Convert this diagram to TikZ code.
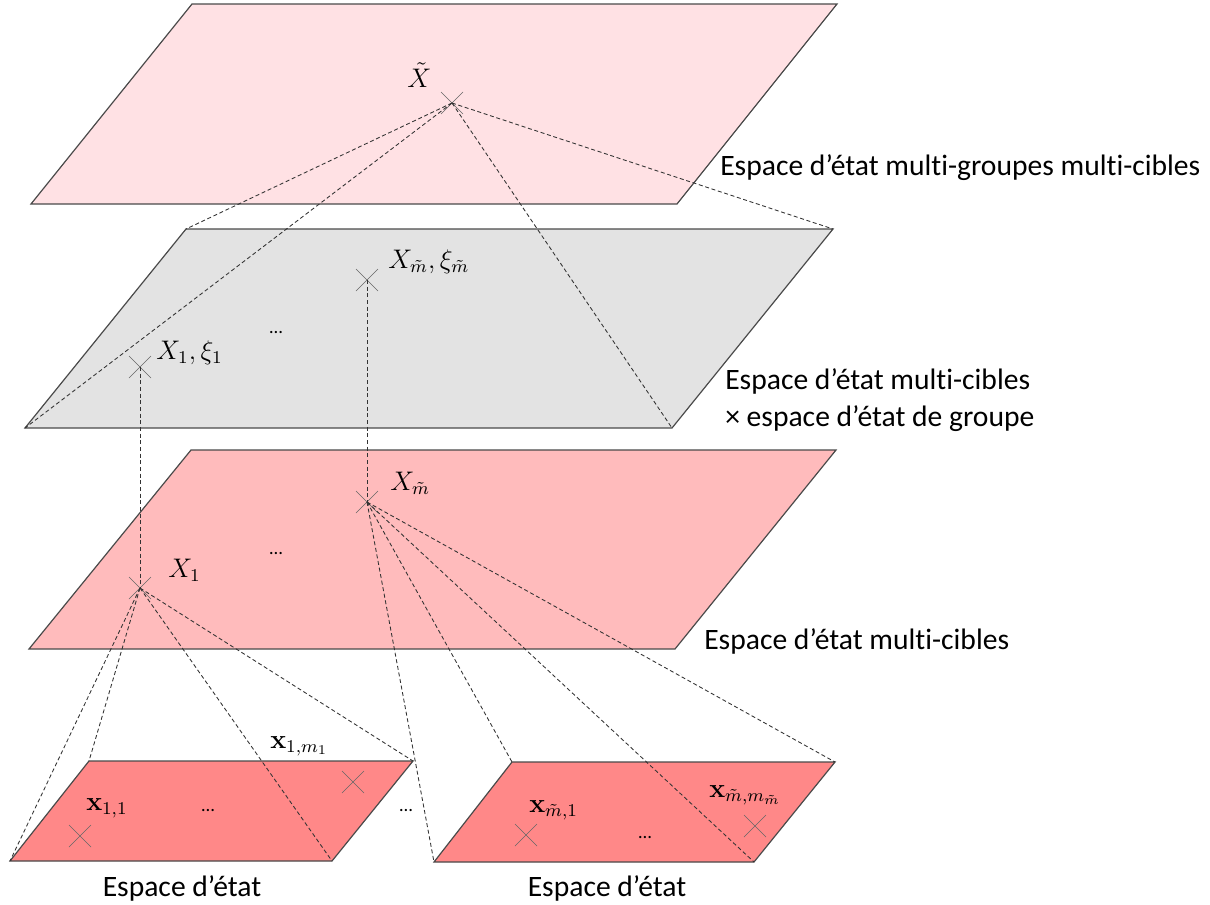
\documentclass[tikz,border=0pt]{standalone}
\usepackage{amsmath}
\usepackage{graphicx}
\usepackage[no-math]{fontspec}
\setmainfont{Carlito}[Ligatures=NoCommon]
\usetikzlibrary{shapes.misc}
\definecolor{topfill}{HTML}{FFE1E4}
\definecolor{grayfill}{HTML}{E3E3E3}
\definecolor{midfill}{HTML}{FFBBBC}
\definecolor{lowfill}{HTML}{FF8888}
\definecolor{edge}{HTML}{4A4A4A}
\newcommand{\mlab}[1]{\scalebox{1.68}{$#1$}}
\tikzset{
  plane/.style={draw=edge, line width=0.9pt, line join=miter},
  link/.style={draw=black!80, dash pattern=on 3pt off 2pt, line width=0.65pt},
  pt/.style={cross out, draw=black!60, line width=0.5pt, minimum size=16pt, inner sep=0pt},
  lbl/.style={font=\fontsize{12}{14}\selectfont, inner sep=0pt, anchor=west},
  captxt/.style={font=\fontsize{22.2}{26}\selectfont, inner sep=0pt, anchor=west, align=left},
  captc/.style={font=\fontsize{22.2}{26}\selectfont, inner sep=0pt},
  dots/.style={font=\fontsize{14}{16}\selectfont, inner sep=0pt},
}
\begin{document}
\begin{tikzpicture}[x=0.75pt,y=-0.75pt]
\useasboundingbox (0,0) rectangle (1210,904);
% plane corners
\coordinate (t1) at (192,4);   \coordinate (t2) at (837,4);   \coordinate (t3) at (677,204); \coordinate (t4) at (31,204);
\coordinate (g1) at (186,229); \coordinate (g2) at (833,229); \coordinate (g3) at (672,428); \coordinate (g4) at (25,428);
\coordinate (m1) at (191,450); \coordinate (m2) at (836,450); \coordinate (m3) at (675,649); \coordinate (m4) at (29,649);
\coordinate (a1) at (89,761);  \coordinate (a2) at (413,761); \coordinate (a3) at (332,861); \coordinate (a4) at (10,861);
\coordinate (b1) at (512,762); \coordinate (b2) at (835,762); \coordinate (b3) at (754,862); \coordinate (b4) at (434,862);
% planes
\filldraw[plane, fill=topfill]  (t1) -- (t2) -- (t3) -- (t4) -- cycle;
\filldraw[plane, fill=grayfill] (g1) -- (g2) -- (g3) -- (g4) -- cycle;
\filldraw[plane, fill=midfill]  (m1) -- (m2) -- (m3) -- (m4) -- cycle;
\filldraw[plane, fill=lowfill]  (a1) -- (a2) -- (a3) -- (a4) -- cycle;
\filldraw[plane, fill=lowfill]  (b1) -- (b2) -- (b3) -- (b4) -- cycle;
% points
\node[pt] (Xt) at (452,103) {};
\node[pt] (G1) at (140,367) {};
\node[pt] (Gm) at (367,280) {};
\node[pt] (M1) at (140,588) {};
\node[pt] (Mm) at (367,502) {};
\node[pt] (L1) at (80,836) {};
\node[pt] (L2) at (353,782) {};
\node[pt] (R1) at (526,835) {};
\node[pt] (R2) at (755,826) {};
% links
\draw[link] (Xt.center) -- (g1);
\draw[link] (Xt.center) -- (g2);
\draw[link] (Xt.center) -- (g3);
\draw[link] (Xt.center) -- (g4);
\draw[link] (G1.center) -- (M1.center);
\draw[link] (Gm.center) -- (Mm.center);
\draw[link] (M1.center) -- (a1);
\draw[link] (M1.center) -- (a2);
\draw[link] (M1.center) -- (a3);
\draw[link] (M1.center) -- (a4);
\draw[link] (Mm.center) -- (b1);
\draw[link] (Mm.center) -- (b2);
\draw[link] (Mm.center) -- (b3);
\draw[link] (Mm.center) -- (b4);
% point labels
\node[lbl] (lXt) at (407,75) {\mlab{\tilde{X}}};
\node[lbl] (lG1) at (156,353) {\mlab{X_1, \xi_1}};
\node[lbl] (lGm) at (388,262) {\mlab{X_{\tilde{m}}, \xi_{\tilde{m}}}};
\node[lbl] (lM1) at (168,570) {\mlab{X_1}};
\node[lbl] (lMm) at (390,483) {\mlab{X_{\tilde{m}}}};
\node[lbl] (lL1) at (86,808) {\mlab{\mathbf{x}_{1,1}}};
\node[lbl] (lL2) at (270,746) {\mlab{\mathbf{x}_{1,m_1}}};
\node[lbl] (lR1) at (529,810) {\mlab{\mathbf{x}_{\tilde{m},1}}};
\node[lbl] (lR2) at (709,795) {\mlab{\mathbf{x}_{\tilde{m},m_{\tilde{m}}}}};
% dots
\node[dots] (d1) at (276,333) {\dots};
\node[dots] (d2) at (276,554) {\dots};
\node[dots] (d3) at (208,811) {\dots};
\node[dots] (d4) at (406,811) {\dots};
\node[dots] (d5) at (645,838) {\dots};
% captions
\node[captxt] (c1) at (720,168) {Espace d’état multi-groupes multi-cibles};
\node[captxt, anchor=north west] (c2) at (725,368) {Espace d’état multi-cibles\\[2pt]× espace d’état de groupe};
\node[captxt] (c3) at (704,641) {Espace d’état multi-cibles};
\node[captc] (c4) at (182,888) {Espace d’état};
\node[captc] (c5) at (607,888) {Espace d’état};
\end{tikzpicture}
\end{document}
